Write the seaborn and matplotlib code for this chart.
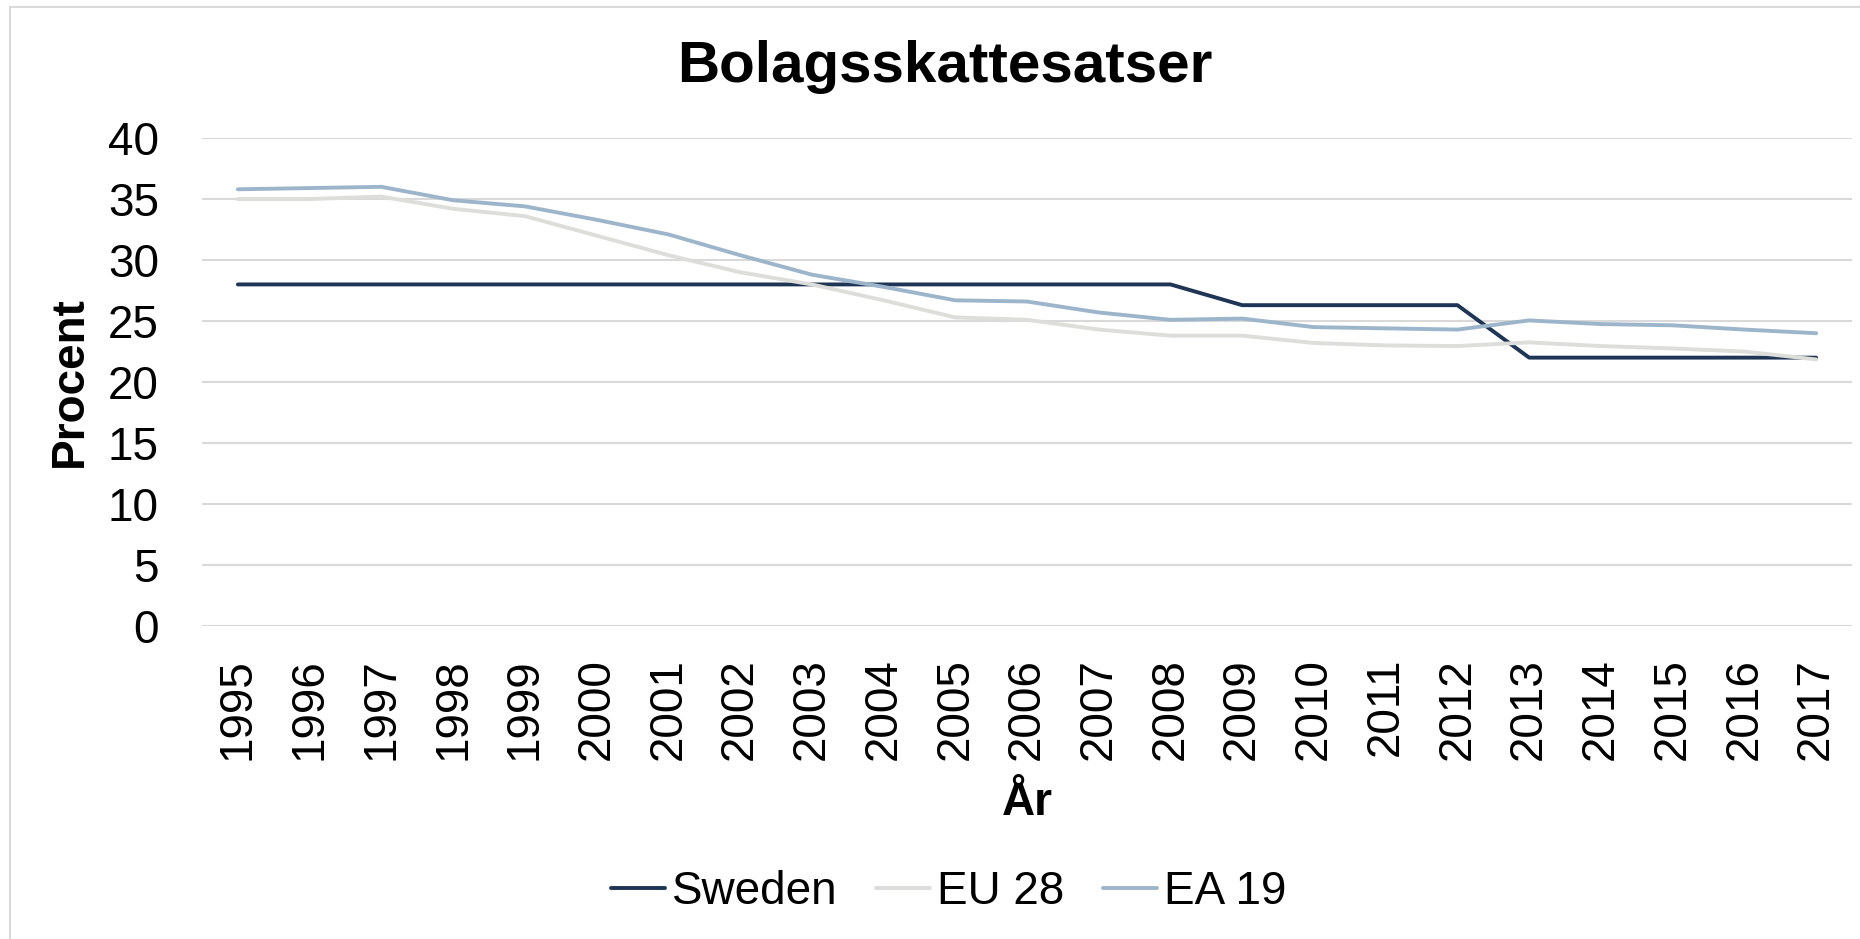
import pandas as pd
import matplotlib
matplotlib.use('Agg')
import matplotlib.pyplot as plt
import seaborn as sns
from matplotlib.patches import Rectangle

#data
years = [str(y) for y in range(1995, 2018)]
sweden = [28.0, 28.0, 28.0, 28.0, 28.0, 28.0, 28.0, 28.0, 28.0, 28.0, 28.0, 28.0,
          28.0, 28.0, 26.3, 26.3, 26.3, 26.3, 22.0, 22.0, 22.0, 22.0, 22.0]
eu28 = [35.0, 35.0, 35.2, 34.2, 33.6, 32.0, 30.4, 29.0, 28.0, 26.7, 25.3, 25.1,
        24.3, 23.8, 23.8, 23.2, 23.0, 22.95, 23.25, 22.95, 22.75, 22.5, 21.85]
ea19 = [35.8, 35.9, 36.0, 34.9, 34.4, 33.3, 32.1, 30.4, 28.8, 27.8, 26.7, 26.6,
        25.7, 25.1, 25.2, 24.5, 24.4, 24.3, 25.05, 24.75, 24.65, 24.3, 24.0]
series_names = ['Sweden', 'EU 28', 'EA 19']
colors = ['#1F3556', '#DDDDD9', '#9DB5CB']

df = pd.DataFrame({'År': years * 3,
                   'Procent': sweden + eu28 + ea19,
                   'serie': [n for n in series_names for _ in years]})

sns.set_style('white')
plt.rcParams['font.family'] = ['Liberation Sans', 'DejaVu Sans']
plt.rcParams['text.color'] = 'black'
plt.rcParams['axes.labelcolor'] = 'black'
plt.rcParams['xtick.color'] = 'black'
plt.rcParams['ytick.color'] = 'black'

fig = plt.figure(figsize=(18.6, 9.39), dpi=100)
ax = fig.add_axes([0.1086, 0.3333, 0.8871, 0.5197])

sns.lineplot(data=df, x='År', y='Procent', hue='serie', hue_order=series_names,
             palette=colors, linewidth=2.8, sort=False, ax=ax, legend=False)

ax.set_xlim(-0.5, len(years) - 0.5)
ax.set_ylim(0, 40)
ax.set_yticks(range(0, 41, 5))
ax.grid(axis='y', color='#D9D9D9', linewidth=1.5)
ax.set_axisbelow(True)
for s in ax.spines.values():
    s.set_visible(False)
ax.tick_params(axis='y', length=0, pad=31, labelsize=33)
ax.tick_params(axis='x', length=0, pad=23, labelsize=33, labelrotation=90)

ax.set_ylabel('Procent', fontsize=33, fontweight='bold')
ax.yaxis.set_label_coords(-0.067, 0.5)
ax.set_xlabel('År', fontsize=33, fontweight='bold')
ax.xaxis.label.set_va('baseline')
ax.xaxis.set_label_coords(0.5, -0.387)

fig.text(0.508, 0.9127, 'Bolagsskattesatser', fontsize=42, fontweight='bold',
         ha='center', va='baseline')

handles = [plt.Line2D([], [], color=c, linewidth=2.8) for c in colors]
fig.legend(handles, series_names, loc='center', bbox_to_anchor=(0.51, 0.05),
           ncol=3, frameon=False, fontsize=33, handlelength=1.17,
           handletextpad=0.15, columnspacing=0.85)

#light outer frame like the excel chart border
fig.add_artist(Rectangle((10 / 1860, -0.1), 1.2, 1.1 - 7 / 939,
                         transform=fig.transFigure, fill=False,
                         edgecolor='#D9D9D9', linewidth=1.5))

fig.savefig('out.png', dpi=100)
